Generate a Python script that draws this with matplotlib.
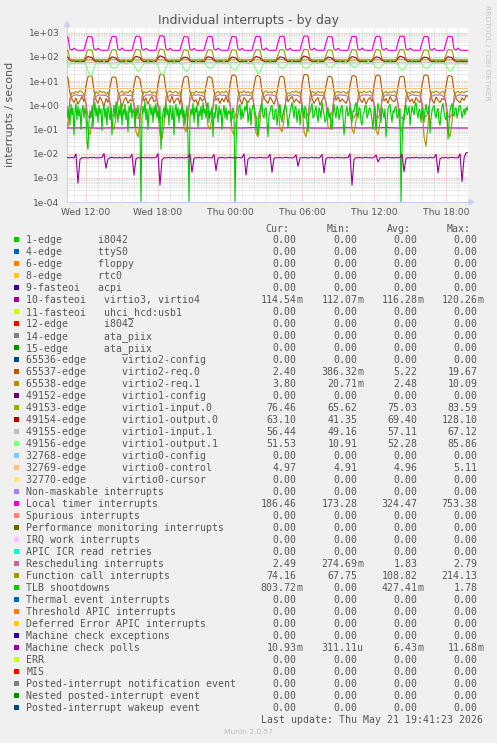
import numpy as np
import matplotlib
matplotlib.use("Agg")
import matplotlib.pyplot as plt
from matplotlib.ticker import FixedLocator, NullFormatter
from matplotlib.lines import Line2D
from matplotlib.patches import Rectangle, Polygon

W, H, DPI = 497, 743, 100

# ---------------- time axes (hours since Wed 00:00) ----------------
fine_start = 10 + 20 / 60.0          # 10:20
fine_times = fine_start + np.arange(202) / 6.0     # 10-minute samples
tlb_times = fine_start + np.arange(404) / 12.0     # 5-minute samples
coarse_times = np.arange(10, 45)                   # hourly samples

x_tick_hours = [12, 18, 24, 30, 36, 42]
x_tick_labels = ["Wed 12:00", "Wed 18:00", "Thu 00:00", "Thu 06:00", "Thu 12:00", "Thu 18:00"]
y_tick_values = [1e-4, 1e-3, 1e-2, 1e-1, 1e0, 1e1, 1e2, 1e3]
y_tick_labels = ["1e-04", "1e-03", "1e-02", "1e-01", "1e+00", "1e+01", "1e+02", "1e+03"]

# ---------------- series values ----------------
loc_timer = [690, 650, 205, 190, 232, 196, 188, 186, 190, 187,
    400, 700, 690, 675, 210, 190, 228, 195, 188, 187, 190, 186,
    390, 690, 700, 680, 205, 188, 235, 192, 187, 189, 186, 188,
    410, 710, 720, 690, 200, 190, 225, 194, 188, 186, 190, 187,
    420, 740, 750, 700, 210, 189, 230, 193, 187, 188, 186, 189,
    380, 690, 680, 670, 200, 188, 226, 192, 186, 190, 187, 188,
    400, 700, 705, 685, 205, 190, 232, 195, 189, 187, 188, 186,
    390, 695, 690, 680, 210, 188, 228, 193, 187, 189, 186, 188,
    405, 710, 700, 690, 205, 190, 236, 194, 188, 186, 189, 187,
    395, 700, 715, 695, 200, 189, 229, 192, 186, 188, 187, 189,
    410, 720, 730, 700, 210, 190, 231, 195, 188, 187, 190, 186,
    385, 690, 685, 675, 205, 188, 227, 193, 187, 189, 186, 188,
    400, 705, 700, 690, 200, 190, 233, 194, 189, 186, 188, 187,
    395, 700, 710, 685, 210, 189, 228, 192, 187, 188, 186, 189,
    410, 715, 720, 700, 205, 190, 230, 195, 188, 187, 189, 186,
    390, 695, 690, 680, 200, 188, 226, 193, 186, 189, 187, 188,
    400, 705, 700, 690, 210, 190, 232, 194, 188, 187, 186, 186]

func_call = [195, 185, 80, 75, 73, 74, 72, 73, 75, 72,
    125, 200, 195, 190, 84, 76, 74, 73, 72, 74, 73, 72,
    120, 195, 200, 192, 82, 75, 73, 74, 72, 73, 75, 72,
    130, 205, 198, 195, 85, 76, 74, 72, 73, 74, 72, 73,
    125, 214, 205, 196, 83, 75, 73, 74, 72, 73, 74, 72,
    118, 195, 190, 188, 80, 74, 73, 72, 74, 73, 72, 73,
    122, 198, 196, 190, 82, 75, 74, 73, 72, 74, 73, 72,
    120, 196, 194, 190, 84, 76, 73, 74, 72, 73, 75, 73,
    126, 202, 198, 193, 82, 75, 74, 72, 73, 74, 72, 73,
    121, 197, 200, 191, 83, 74, 73, 74, 72, 73, 74, 72,
    128, 206, 203, 195, 85, 76, 74, 73, 72, 74, 73, 72,
    119, 194, 192, 188, 81, 75, 73, 74, 72, 73, 72, 73,
    124, 200, 197, 192, 83, 75, 74, 72, 73, 74, 73, 72,
    121, 198, 199, 190, 82, 74, 73, 74, 72, 73, 74, 73,
    127, 204, 200, 194, 84, 76, 74, 73, 72, 74, 73, 72,
    120, 195, 193, 189, 81, 75, 73, 74, 73, 72, 74, 73,
    124, 200, 198, 192, 83, 75, 74, 73, 72, 73, 74, 74]

virtio1_output0 = [100, 96, 74, 66, 70, 62, 68, 58, 66, 63,
    88, 104, 98, 92, 72, 64, 69, 60, 67, 55, 65, 62,
    86, 100, 96, 90, 70, 65, 60, 68, 52, 66, 63, 67,
    90, 106, 100, 94, 73, 62, 68, 57, 66, 64, 59, 66,
    92, 110, 103, 95, 71, 66, 61, 69, 56, 65, 62, 68,
    85, 98, 95, 89, 69, 63, 67, 58, 64, 60, 66, 61,
    88, 102, 97, 91, 72, 65, 59, 68, 63, 57, 66, 64,
    84, 99, 95, 90, 70, 62, 68, 60, 66, 54, 64, 67,
    89, 104, 99, 93, 73, 66, 60, 67, 58, 65, 62, 66,
    86, 101, 96, 91, 71, 63, 69, 57, 66, 61, 65, 60,
    91, 108, 102, 95, 72, 65, 61, 68, 55, 66, 63, 67,
    85, 99, 94, 89, 70, 64, 67, 59, 65, 62, 58, 66,
    88, 103, 98, 92, 71, 62, 68, 60, 66, 53, 64, 65,
    87, 100, 97, 91, 73, 66, 60, 67, 57, 65, 62, 66,
    90, 106, 100, 94, 72, 64, 69, 58, 66, 61, 65, 63,
    85, 99, 95, 90, 70, 63, 67, 59, 64, 60, 66, 62,
    88, 102, 97, 92, 71, 65, 61, 68, 63, 64, 63, 63]

virtio1_output1 = [30, 38, 50, 55, 54, 56, 55, 53, 56, 55,
    46, 26, 15, 18, 36, 52, 55, 54, 56, 55, 53, 55,
    48, 38, 33, 36, 46, 54, 56, 55, 54, 56, 55, 54,
    47, 32, 25, 28, 42, 53, 55, 56, 54, 55, 56, 54,
    45, 25, 17, 21, 38, 52, 56, 55, 54, 56, 55, 54,
    47, 32, 25, 27, 42, 53, 55, 54, 56, 55, 54, 56,
    48, 38, 33, 35, 45, 54, 55, 56, 54, 55, 56, 55,
    47, 34, 28, 30, 43, 53, 56, 55, 54, 56, 55, 54,
    46, 30, 20, 24, 40, 52, 55, 56, 54, 55, 54, 56,
    48, 38, 33, 36, 46, 54, 55, 54, 56, 55, 56, 55,
    48, 37, 33, 35, 45, 53, 56, 55, 54, 56, 55, 54,
    49, 40, 36, 38, 47, 54, 55, 56, 55, 54, 56, 55,
    49, 42, 38, 40, 48, 54, 56, 55, 54, 55, 56, 54,
    48, 38, 33, 36, 46, 53, 55, 56, 54, 56, 55, 55,
    47, 34, 28, 31, 43, 54, 56, 55, 54, 55, 56, 54,
    48, 38, 33, 35, 45, 53, 55, 54, 56, 55, 54, 56,
    47, 32, 25, 28, 42, 52, 55, 56, 54, 52, 51, 52]

virtio2_req0 = [16, 14, 3.2, 1.8, 1.3, 2.0, 1.1, 1.6, 2.3, 1.4,
    6.5, 15, 17, 16, 4.0, 1.7, 1.2, 2.2, 1.5, 0.9, 1.9, 1.3,
    6.0, 14, 15, 14, 3.5, 1.9, 0.8, 1.6, 2.1, 1.2, 1.7, 1.5,
    7.0, 16, 15, 12, 3.8, 1.5, 2.0, 1.1, 1.8, 2.3, 1.4, 1.6,
    7.5, 18, 19.5, 17, 4.2, 1.8, 1.3, 2.4, 1.2, 1.7, 2.0, 1.1,
    6.0, 14, 16, 15, 3.6, 2.1, 1.4, 1.7, 1.0, 2.2, 1.5, 1.8,
    6.5, 15, 15, 13, 3.9, 1.6, 2.0, 1.2, 1.9, 1.4, 2.3, 1.3,
    7.0, 17, 18, 16, 4.1, 1.7, 1.1, 2.1, 1.6, 1.3, 1.8, 2.0,
    6.8, 16, 17, 15, 3.7, 2.0, 1.5, 1.2, 2.2, 1.6, 1.1, 1.9,
    6.2, 15, 16, 14, 3.5, 1.4, 1.9, 2.3, 1.3, 1.8, 1.5, 1.2,
    7.2, 18, 19, 17, 4.3, 1.9, 1.2, 1.7, 2.1, 1.0, 1.6, 2.2,
    6.4, 15, 16, 14, 3.8, 1.6, 2.2, 1.4, 1.8, 1.5, 1.2, 1.9,
    6.6, 16, 17, 15, 3.9, 1.8, 1.3, 2.0, 1.1, 1.7, 2.1, 1.4,
    6.9, 17, 18, 16, 4.0, 1.5, 1.9, 1.2, 2.3, 1.6, 1.4, 1.8,
    6.3, 15, 16, 15, 3.6, 2.0, 1.4, 1.8, 1.2, 2.1, 1.5, 1.3,
    7.0, 17, 18, 17, 4.2, 1.7, 1.2, 2.2, 1.6, 1.3, 1.9, 1.7,
    6.6, 16, 17, 15, 3.8, 1.9, 1.5, 1.3, 2.0, 1.6, 2.4, 2.4]

virtio2_req1 = [0.25, 0.12, 2.0, 3.4, 3.0, 3.8, 3.2, 4.1, 3.5, 2.9,
    1.1, 0.1, 0.06, 0.18, 2.4, 3.6, 3.1, 4.0, 3.3, 3.7, 2.9, 3.5,
    1.2, 0.15, 0.1, 0.3, 2.6, 3.3, 3.9, 3.0, 3.6, 3.2, 4.2, 3.4,
    1.0, 0.08, 0.05, 0.2, 2.3, 3.7, 3.2, 3.5, 4.0, 3.1, 3.6, 3.3,
    0.9, 0.06, 0.04, 0.15, 2.2, 3.4, 4.1, 3.2, 3.5, 3.8, 3.0, 3.6,
    1.1, 0.12, 0.08, 0.25, 2.5, 3.5, 3.0, 3.9, 3.3, 3.6, 3.2, 3.7,
    1.2, 0.14, 0.1, 0.3, 2.6, 3.2, 3.8, 3.1, 3.6, 3.4, 3.9, 3.2,
    1.0, 0.09, 0.06, 0.2, 2.4, 3.6, 3.3, 4.0, 3.2, 3.7, 3.1, 3.5,
    0.9, 0.07, 0.05, 0.18, 2.3, 3.5, 3.9, 3.3, 3.6, 3.2, 3.8, 3.4,
    1.1, 0.11, 0.08, 0.25, 2.5, 3.3, 3.1, 3.7, 3.4, 3.9, 3.2, 3.6,
    1.0, 0.08, 0.05, 0.2, 2.4, 3.7, 3.4, 3.0, 3.8, 3.3, 3.6, 3.1,
    1.2, 0.13, 0.1, 0.3, 2.6, 3.4, 3.8, 3.2, 3.5, 3.7, 3.0, 3.6,
    1.1, 0.1, 0.07, 0.22, 2.5, 3.6, 3.2, 3.9, 3.3, 3.5, 3.8, 3.2,
    1.0, 0.09, 0.06, 0.2, 2.4, 3.3, 3.7, 3.1, 3.6, 3.4, 3.9, 3.3,
    1.1, 0.12, 0.08, 0.25, 2.5, 3.5, 3.0, 3.8, 3.2, 3.7, 3.3, 3.6,
    0.9, 0.05, 0.02, 0.15, 2.2, 3.6, 3.3, 3.9, 3.4, 3.1, 3.7, 3.5,
    1.0, 0.08, 0.05, 0.2, 2.4, 3.4, 3.8, 3.2, 3.6, 3.3, 3.8, 3.8]

resched = [0.4, 0.35, 1.5, 2.3, 2.6, 2.7, 2.6, 2.5, 2.6, 2.4,
    1.2, 0.35, 0.3, 0.45, 1.5, 2.3, 2.6, 2.7, 2.6, 2.6, 2.5, 2.3,
    1.3, 0.4, 0.35, 0.5, 1.6, 2.4, 2.7, 2.6, 2.7, 2.5, 2.6, 2.4,
    1.2, 0.32, 0.28, 0.42, 1.5, 2.3, 2.6, 2.7, 2.6, 2.7, 2.5, 2.3,
    1.1, 0.3, 0.27, 0.4, 1.4, 2.2, 2.6, 2.7, 2.6, 2.5, 2.6, 2.4,
    1.3, 0.4, 0.35, 0.5, 1.6, 2.4, 2.7, 2.6, 2.7, 2.6, 2.5, 2.3,
    1.2, 0.36, 0.3, 0.45, 1.5, 2.3, 2.6, 2.7, 2.6, 2.6, 2.5, 2.4,
    1.2, 0.34, 0.3, 0.44, 1.5, 2.3, 2.7, 2.6, 2.7, 2.5, 2.6, 2.3,
    1.1, 0.3, 0.28, 0.4, 1.4, 2.2, 2.6, 2.7, 2.6, 2.7, 2.5, 2.4,
    1.3, 0.38, 0.33, 0.48, 1.6, 2.4, 2.6, 2.7, 2.6, 2.6, 2.5, 2.3,
    1.2, 0.35, 0.3, 0.45, 1.5, 2.3, 2.7, 2.6, 2.7, 2.5, 2.6, 2.4,
    1.3, 0.4, 0.35, 0.5, 1.6, 2.4, 2.6, 2.7, 2.6, 2.6, 2.5, 2.3,
    1.2, 0.36, 0.31, 0.46, 1.5, 2.3, 2.6, 2.7, 2.6, 2.7, 2.5, 2.4,
    1.2, 0.35, 0.3, 0.45, 1.5, 2.3, 2.7, 2.6, 2.7, 2.5, 2.6, 2.3,
    1.1, 0.32, 0.29, 0.42, 1.4, 2.2, 2.6, 2.7, 2.6, 2.6, 2.5, 2.4,
    1.3, 0.4, 0.34, 0.5, 1.6, 2.4, 2.6, 2.7, 2.6, 2.7, 2.5, 2.3,
    1.2, 0.35, 0.3, 0.45, 1.5, 2.3, 2.6, 2.7, 2.6, 2.5, 2.5, 2.5]

tlb_shootdowns = [0.5, 0.9, 0.3, 0.7, 0.15, 1.1, 0.4, 0.8, 0.06, 0.5, 1.2, 0.25, 0.9, 0.35, 0.7, 0.1, 0.6, 1.0, 0.3, 0.8,
    0.4, 0.03, 0.015, 0.2, 0.6, 0.3, 0.9, 0.12, 0.5, 1.3, 0.35, 0.8, 0.2, 1.0, 0.45, 0.7, 0.09, 0.6, 1.1, 0.3, 0.75, 0.15, 0.9, 0.5,
    0.25, 0.8, 0.06, 0.4, 1.0, 0.3, 1.4, 0.5, 0.2, 0.9, 0.35, 1.2, 0.15, 0.7, 0.4, 1.1, 0.25, 0.6, 0.08, 0.9, 0.5, 1.3, 0.3, 0.7,
    0.5, 0.12, 0.8, 0.35, 1.0, 0.4, 0.15, 0, 0.3, 0.9, 0.5, 1.5, 0.25, 0.7, 0.1, 0.6, 1.1, 0.4, 0.8, 0.2, 0.9, 0.45, 1.2, 0.3,
    0.6, 0.2, 0.9, 0.015, 0.1, 0.5, 0.8, 0.3, 1.2, 0.4, 0.7, 0.15, 1.0, 0.5, 0.25, 0.9, 0.06, 0.6, 1.1, 0.35, 0.8, 0.2, 0.7, 0.4,
    1.0, 0.3, 0.6, 0.15, 0.5, 0.9, 0.04, 0, 0.3, 0.7, 0.4, 1.2, 0.2, 0.8, 0.5, 1.0, 0.12, 0.6, 0.35, 0.9, 0.25, 1.3, 0.45, 0.7,
    0.3, 0.9, 1.3, 0.2, 0.6, 0.4, 0.8, 0.05, 0.5, 0.3, 1.1, 0.6, 0.2, 0.9, 0.4, 0.7, 0.1, 0.5, 1.0, 0.3, 0.8, 0.25, 0.6, 0.45,
    0.6, 0.2, 0.3, 0.8, 0.5, 0, 0.02, 0.3, 0.4, 0.9, 1.1, 0.25, 0.7, 0.3, 0.5, 0.9, 0.6, 1.5, 0.2, 0.4, 0.8, 0.15, 0.6, 1.0,
    0.9, 0.4, 0.35, 0.1, 0.06, 0.5, 0.6, 1.0, 1.2, 0.35, 0.3, 0.7, 0.8, 0.2, 0.05, 0.4, 0.5, 0.9, 1.0, 0.3, 0.25, 0.6, 0.7, 0.15,
    0.4, 0.8, 1.1, 0.3, 0.2, 0.5, 0.65, 1.0, 0.9, 0.4, 0.12, 0.3, 0.5, 0.8, 1.3, 0.6, 0.3, 0.9, 0.8, 0.2, 0.45, 0.7, 0.15, 0.5,
    1.0, 0.5, 0.3, 0.9, 0.7, 0.2, 0.08, 0.4, 0.5, 0.8, 1.2, 0.3, 0.35, 0.6, 0.9, 0.4, 0.2, 0.8, 0.6, 0.3, 1.4, 0.7, 0.4, 0.2,
    0.25, 0.6, 0.8, 0.3, 0.5, 0.15, 0.1, 0.4, 1.1, 0.5, 0.3, 0.9, 0.7, 0.25, 0.45, 0.8, 1.0, 0.3, 0.06, 0.2, 0.6, 0.9, 0.35, 0.5,
    0.9, 0.3, 0.2, 0.6, 0.55, 1.0, 1.3, 0.5, 0.3, 0.8, 0.75, 0.2, 0.15, 0.4, 0.5, 0.9, 1.0, 0.3, 0.4, 0.7, 0.8, 0.5, 0.25, 0.1,
    0.6, 0.9, 0.1, 0.3, 1.2, 0.7, 0.4, 0.2, 0.8, 0.5, 0.3, 0.7, 0.05, 0.2, 0.7, 0.9, 1.1, 0.4, 0.2, 0.6, 0.5, 0.8, 0.9, 0.3,
    0.35, 0.6, 0.7, 0, 0.02, 0.3, 0.25, 0.8, 1.0, 0.4, 0.5, 0.9, 0.15, 0.4, 0.9, 0.6, 0.4, 1.0, 1.3, 0.5, 0.3, 0.7, 0.6, 0.2,
    0.8, 0.4, 0.2, 0.6, 1.1, 0.5, 0.45, 0.9, 0.07, 0.3, 0.6, 0.8, 1.0, 0.4, 0.3, 0.6, 0.75, 0.2, 0.15, 0.5, 0.9, 1.2, 0.5, 0.3,
    0.25, 0.5, 0.04, 0.2, 0.6, 0.9, 1.2, 0.4, 0.35, 0.7, 0.8, 0.3, 0.5, 0.9, 1.0, 0.6, 0.3, 0.5, 0.7, 0.4, 0.8, 0.6, 0.9, 0.8]

mce_polls = [0.0066, 0.0069, 0.0067, 0.0070, 0.0065, 0.0098, 0.0006, 0.0058, 0.0068, 0.0067,
    0.0068, 0.0066, 0.0069, 0.0067, 0.0070, 0.0066, 0.0068, 0.0067, 0.0069, 0.0102, 0.0025, 0.0060,
    0.0068, 0.0070, 0.0066, 0.0068, 0.0067, 0.0069, 0.0066, 0.0068, 0.0070, 0.0067, 0.0068, 0.0095,
    0.0013, 0.0062, 0.0068, 0.0066, 0.0069, 0.0067, 0.0068, 0.0070, 0.0066, 0.0068, 0.0067, 0.0069,
    0.0100, 0.0005, 0.0055, 0.0068, 0.0066, 0.0069, 0.0067, 0.0068, 0.0070, 0.0066, 0.0068, 0.0067,
    0.0069, 0.0066, 0.0068, 0.0070, 0.0096, 0.0017, 0.0064, 0.0068, 0.0067, 0.0069, 0.0066, 0.0068,
    0.0070, 0.0067, 0.0068, 0.0066, 0.0092, 0.0020, 0.0065, 0.0068, 0.0069, 0.0067, 0.0066, 0.0068,
    0.0070, 0.0067, 0.0068, 0.0066, 0.0069, 0.0068, 0.0067, 0.0097, 0.0013, 0.0060, 0.0068, 0.0069,
    0.0067, 0.0066, 0.0068, 0.0070, 0.0067, 0.0068, 0.0066, 0.0069, 0.0094, 0.0017, 0.0063, 0.0068,
    0.0067, 0.0069, 0.0066, 0.0068, 0.0070, 0.0067, 0.0068, 0.0066, 0.0069, 0.0090, 0.0030, 0.0066,
    0.0068, 0.0067, 0.0069, 0.0066, 0.0068, 0.0070, 0.0067, 0.0068, 0.0066, 0.0069, 0.0093, 0.0016,
    0.0064, 0.0068, 0.0067, 0.0069, 0.0066, 0.0068, 0.0070, 0.0067, 0.0068, 0.0066, 0.0069, 0.0067,
    0.0099, 0.0005, 0.0058, 0.0068, 0.0067, 0.0069, 0.0066, 0.0068, 0.0070, 0.0067, 0.0068, 0.0066,
    0.0069, 0.0088, 0.0045, 0.0067, 0.0068, 0.0066, 0.0069, 0.0070, 0.0067, 0.0068, 0.0066, 0.0069,
    0.0067, 0.0068, 0.0095, 0.0018, 0.0064, 0.0068, 0.0066, 0.0069, 0.0067, 0.0070, 0.0068, 0.0066,
    0.0069, 0.0067, 0.0068, 0.0066, 0.0070, 0.0067, 0.0068, 0.0094, 0.0016, 0.0062, 0.0068, 0.0067,
    0.0069, 0.0066, 0.0068, 0.0070, 0.0067, 0.0068, 0.0066, 0.0098, 0.0007, 0.0065, 0.0109, 0.0109]

# hourly (nearly flat) series
virtio3_4 = [0.116, 0.115, 0.117, 0.114, 0.116, 0.115, 0.118, 0.116, 0.115, 0.117, 0.116, 0.114,
    0.115, 0.117, 0.116, 0.115, 0.118, 0.116, 0.115, 0.117, 0.116, 0.115, 0.114, 0.116,
    0.117, 0.115, 0.116, 0.118, 0.115, 0.116, 0.117, 0.115, 0.116, 0.115, 0.115]
virtio1_input0 = [76, 75, 74, 76, 77, 75, 74, 76, 75, 73, 76, 75, 77, 74, 75, 76, 74, 75,
    77, 76, 75, 74, 76, 75, 73, 75, 76, 74, 77, 75, 76, 74, 75, 76, 76]
virtio1_input1 = [57, 56, 58, 57, 56, 57, 58, 56, 57, 57, 56, 58, 57, 56, 57, 58, 57, 56,
    57, 58, 56, 57, 57, 58, 56, 57, 58, 57, 56, 57, 58, 57, 56, 56, 56]
virtio0_control = [4.96, 4.95, 4.97, 4.96, 4.96, 4.95, 4.97, 4.96, 4.96, 4.97, 4.95, 4.96,
    4.96, 4.97, 4.96, 4.95, 4.96, 4.97, 4.96, 4.96, 4.95, 4.97, 4.96, 4.96, 4.97, 4.96,
    4.95, 4.96, 4.97, 4.96, 4.96, 4.95, 4.97, 4.97, 4.97]

# ---------------- legend rows ----------------
legend_labels = [
    "1-edge      i8042", "4-edge      ttyS0", "6-edge      floppy", "8-edge      rtc0",
    "9-fasteoi   acpi", "10-fasteoi   virtio3, virtio4", "11-fasteoi   uhci_hcd:usb1",
    "12-edge      i8042", "14-edge      ata_piix", "15-edge      ata_piix",
    "65536-edge      virtio2-config", "65537-edge      virtio2-req.0",
    "65538-edge      virtio2-req.1", "49152-edge      virtio1-config",
    "49153-edge      virtio1-input.0", "49154-edge      virtio1-output.0",
    "49155-edge      virtio1-input.1", "49156-edge      virtio1-output.1",
    "32768-edge      virtio0-config", "32769-edge      virtio0-control",
    "32770-edge      virtio0-cursor", "Non-maskable interrupts", "Local timer interrupts",
    "Spurious interrupts", "Performance monitoring interrupts", "IRQ work interrupts",
    "APIC ICR read retries", "Rescheduling interrupts", "Function call interrupts",
    "TLB shootdowns", "Thermal event interrupts", "Threshold APIC interrupts",
    "Deferred Error APIC interrupts", "Machine check exceptions", "Machine check polls",
    "ERR", "MIS", "Posted-interrupt notification event", "Nested posted-interrupt event",
    "Posted-interrupt wakeup event"]

legend_colors = [
    "#00CC00", "#0066B3", "#FF8000", "#FFCC00", "#330099", "#990099", "#CCFF00", "#FF0000",
    "#808080", "#008F00", "#00487D", "#B35A00", "#B38F00", "#6B006B", "#8FB300", "#B30000",
    "#BEBEBE", "#80FF80", "#80C9FF", "#FFC080", "#FFE680", "#AA80FF", "#EE00CC", "#FF8080",
    "#666600", "#FFBFFF", "#00FFCC", "#CC6699", "#999900", "#00CC00", "#0066B3", "#FF8000",
    "#FFCC00", "#330099", "#990099", "#CCFF00", "#FF0000", "#808080", "#008F00", "#00487D"]

cur_vals = ["0.00"] * 5 + ["114.54m"] + ["0.00"] * 5 + ["2.40", "3.80", "0.00", "76.46", "63.10",
    "56.44", "51.53", "0.00", "4.97", "0.00", "0.00", "186.46", "0.00", "0.00", "0.00", "0.00",
    "2.49", "74.16", "803.72m", "0.00", "0.00", "0.00", "0.00", "10.93m"] + ["0.00"] * 5
min_vals = ["0.00"] * 5 + ["112.07m"] + ["0.00"] * 5 + ["386.32m", "20.71m", "0.00", "65.62", "41.35",
    "49.16", "10.91", "0.00", "4.91", "0.00", "0.00", "173.28", "0.00", "0.00", "0.00", "0.00",
    "274.69m", "67.75", "0.00", "0.00", "0.00", "0.00", "0.00", "311.11u"] + ["0.00"] * 5
avg_vals = ["0.00"] * 5 + ["116.28m"] + ["0.00"] * 5 + ["5.22", "2.48", "0.00", "75.03", "69.40",
    "57.11", "52.28", "0.00", "4.96", "0.00", "0.00", "324.47", "0.00", "0.00", "0.00", "0.00",
    "1.83", "108.82", "427.41m", "0.00", "0.00", "0.00", "0.00", "6.43m"] + ["0.00"] * 5
max_vals = ["0.00"] * 5 + ["120.26m"] + ["0.00"] * 5 + ["19.67", "10.09", "0.00", "83.59", "128.10",
    "67.12", "85.86", "0.00", "5.11", "0.00", "0.00", "753.38", "0.00", "0.00", "0.00", "0.00",
    "2.79", "214.13", "1.78", "0.00", "0.00", "0.00", "0.00", "11.68m"] + ["0.00"] * 5

# which legend row has plotted data
plotted = {
    5: (coarse_times, virtio3_4), 11: (fine_times, virtio2_req0), 12: (fine_times, virtio2_req1),
    14: (coarse_times, virtio1_input0), 15: (fine_times, virtio1_output0),
    16: (coarse_times, virtio1_input1), 17: (fine_times, virtio1_output1),
    19: (coarse_times, virtio0_control), 22: (fine_times, loc_timer), 27: (fine_times, resched),
    28: (fine_times, func_call), 29: (tlb_times, tlb_shootdowns), 34: (fine_times, mce_polls)}

# ---------------- figure ----------------
FONT_C = "#555555"
fig = plt.figure(figsize=(W / DPI, H / DPI), dpi=DPI, facecolor="#F0F0F0")

def fx(px):
    return px / W

def fy(py):
    return 1 - py / H

Y_FLOOR = 1e-4
ax_l, ax_r, ax_t, ax_b = 67, 468, 28.3, 202
ax = fig.add_axes([fx(ax_l), fy(ax_b), (ax_r - ax_l) / W, (ax_b - ax_t) / H])
ax.set_facecolor("white")
ax.set_yscale("log", nonpositive="clip")
ax.set_ylim(Y_FLOOR, 10 ** (3 + 4.4 / 24.14))
ax.set_xlim(10.42, 43.83)

for i in range(len(legend_labels)):
    if i in plotted:
        t, v = plotted[i]
        # zero rates are drawn at the bottom of the log axis, as rrdtool does
        shown = np.maximum(np.asarray(v, dtype=float), Y_FLOOR)
        ax.plot(t, shown, color=legend_colors[i], lw=0.8, zorder=3)

# grid
ax.xaxis.set_major_locator(FixedLocator(x_tick_hours))
ax.xaxis.set_minor_locator(FixedLocator(list(range(11, 44))))
ax.set_xticklabels(x_tick_labels)
ax.yaxis.set_major_locator(FixedLocator(y_tick_values))
minor_y = [m * 10.0 ** e for e in range(-4, 4) for m in range(2, 10)]
ax.yaxis.set_minor_locator(FixedLocator(minor_y))
ax.yaxis.set_minor_formatter(NullFormatter())
ax.set_yticklabels(y_tick_labels)
ax.grid(which="minor", color="#d0d0d0", lw=0.6, linestyle=(0, (1, 1)), zorder=1)
ax.grid(which="major", color="#eba0a0", lw=0.6, linestyle=(0, (1, 1)), zorder=2)
ax.set_axisbelow(True)
ax.tick_params(which="both", length=0, labelsize=6.6, labelcolor=FONT_C)
ax.tick_params(axis="y", pad=5.5)
ax.tick_params(axis="x", pad=4)
for s in ["top", "right"]:
    ax.spines[s].set_visible(False)
AXC = "#c8d0f4"
ax.spines["left"].set_color(AXC)
ax.spines["bottom"].set_color(AXC)
ax.spines["left"].set_linewidth(0.8)
ax.spines["bottom"].set_linewidth(0.8)

# axis extensions and arrows
fig.add_artist(Line2D([fx(ax_l), fx(ax_l)], [fy(ax_t), fy(24)], color=AXC, lw=0.8))
fig.add_artist(Line2D([fx(ax_r), fx(470)], [fy(ax_b), fy(ax_b)], color=AXC, lw=0.8))
fig.add_artist(Polygon([[fx(64.5), fy(26.5)], [fx(69.5), fy(26.5)], [fx(67), fy(21.5)]],
                       closed=True, color=AXC, transform=fig.transFigure))
fig.add_artist(Polygon([[fx(469), fy(199.5)], [fx(469), fy(204.5)], [fx(474), fy(202)]],
                       closed=True, color=AXC, transform=fig.transFigure))

# titles
fig.text(fx(248.7), fy(24.3), "Individual interrupts - by day", ha="center", va="baseline",
         fontsize=9, color=FONT_C, family="DejaVu Sans")
fig.text(fx(10.5), fy(114), "interrupts / second", ha="center", va="center", rotation=90,
         fontsize=8, color=FONT_C, family="DejaVu Sans")
fig.text(fx(487.3), fy(5), "RRDTOOL / TOBI OETIKER", ha="center", va="top", rotation=270,
         fontsize=5.4, color="#c4c4c4", family="DejaVu Sans")

# legend
MONO = dict(family="DejaVu Sans Mono", fontsize=7.15, color=FONT_C)
col_right = [296.3, 357.3, 417.3, 477.3]
head_right = [289.8, 350.5, 410.5, 470.5]
for hx, h in zip(head_right, ["Cur:", "Min:", "Avg:", "Max:"]):
    fig.text(fx(hx), fy(231.9), h, ha="right", va="baseline", **MONO)

for i, lab in enumerate(legend_labels):
    yc = 239.5 + 12 * i
    yb = yc + 3.6
    fig.add_artist(Rectangle((fx(14), fy(yc + 2.6)), 5.3 / W, 5.3 / H, transform=fig.transFigure,
                             facecolor=legend_colors[i], edgecolor="none"))
    fig.text(fx(26.3), fy(yb), lab, ha="left", va="baseline", **MONO)
    for cx, vals in zip(col_right, [cur_vals, min_vals, avg_vals, max_vals]):
        s = vals[i]
        num, suf = (s[:-1], s[-1]) if s[-1] in "mu" else (s, "")
        fig.text(fx(cx), fy(yb), num, ha="right", va="baseline", **MONO)
        if suf:
            fig.text(fx(cx), fy(yb), suf, ha="left", va="baseline", **MONO)

fig.text(fx(482.7), fy(722.9), "Last update: Thu May 21 19:41:23 2026", ha="right",
         va="baseline", **MONO)
fig.text(fx(248), fy(734.5), "Munin 2.0.57", ha="center", va="baseline", fontsize=5.4,
         color="#bdbdbd", family="DejaVu Sans")

fig.savefig("out.png", dpi=DPI, facecolor=fig.get_facecolor())
